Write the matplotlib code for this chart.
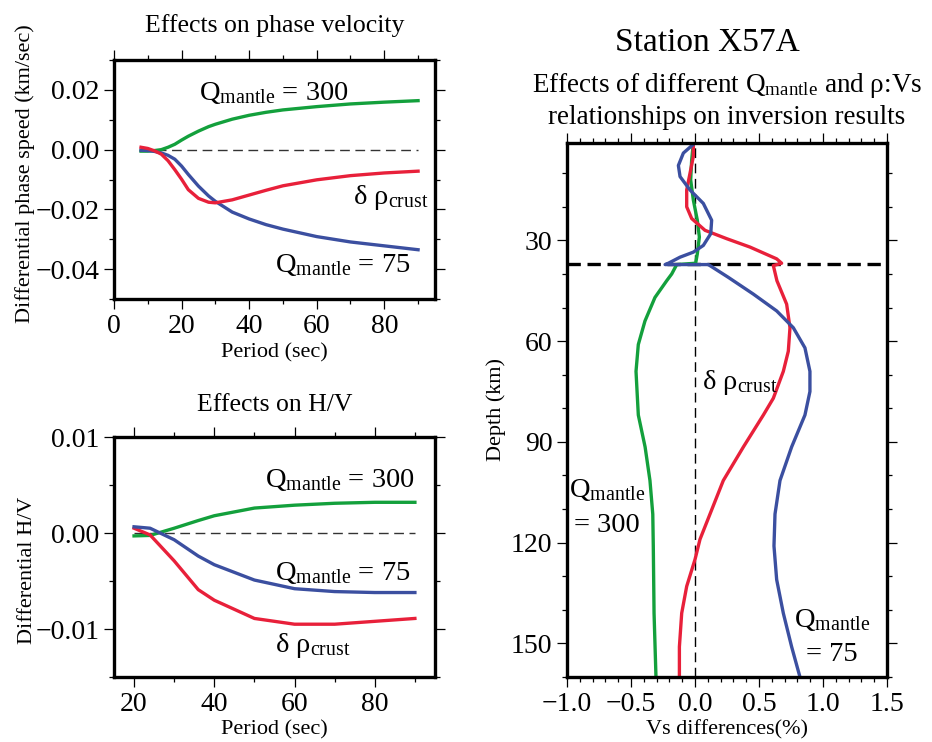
import matplotlib
matplotlib.use('Agg')
from matplotlib import pyplot as plt
from matplotlib.ticker import MultipleLocator, FuncFormatter

plt.rcParams['font.family'] = ['Liberation Serif', 'DejaVu Serif']
plt.rcParams['mathtext.fontset'] = 'custom'
plt.rcParams['mathtext.rm'] = 'Liberation Serif'
plt.rcParams['mathtext.it'] = 'Liberation Serif:italic'
plt.rcParams['mathtext.bf'] = 'Liberation Serif:bold'

GREEN = '#13a03c'
RED = '#e8203a'
BLUE = '#3b4fa0'

# phase velocity differences (km/sec) vs period
pv_period = [8, 10, 12, 14, 16, 18, 20, 22, 25, 28, 30, 35, 40, 45, 50, 60, 70, 80, 90]
pv_q300 = [-0.0005, -0.0005, -0.0003, 0.0, 0.0008, 0.0018, 0.0032, 0.0045, 0.0062, 0.0077,
           0.0085, 0.0102, 0.0115, 0.0125, 0.0133, 0.0144, 0.0153, 0.0159, 0.0164]
pv_rho = [0.0008, 0.0004, -0.0004, -0.0015, -0.0037, -0.0067, -0.0099, -0.0134, -0.0163, -0.0176,
          -0.0178, -0.0168, -0.0152, -0.0136, -0.0121, -0.0101, -0.0087, -0.0078, -0.0072]
pv_q75 = [-0.0002, -0.0003, -0.0006, -0.0011, -0.0019, -0.0032, -0.0055, -0.0083, -0.0122, -0.0155,
          -0.0173, -0.0209, -0.0232, -0.0251, -0.0266, -0.0291, -0.0309, -0.0322, -0.0335]

# H/V differences vs period
hv_period = [20, 24, 30, 36, 40, 50, 60, 70, 80, 90]
hv_q300 = [-0.0003, -0.00025, 0.0005, 0.0013, 0.0018, 0.0026, 0.0029, 0.0031, 0.0032, 0.0032]
hv_q75 = [0.00065, 0.0005, -0.0007, -0.0024, -0.0033, -0.0049, -0.0058, -0.0061, -0.0062, -0.0062]
hv_rho = [0.0005, -0.0002, -0.0029, -0.0059, -0.0070, -0.0089, -0.0095, -0.0095, -0.0092, -0.0089]

# Vs differences (%) vs depth (km)
q300_depth = [1, 6, 12, 18, 24, 29, 34, 36.8, 37.2, 40, 42, 47, 54, 61, 69, 77, 82, 91.5, 101.5, 111.5,
              121, 141, 160]
q300_vs = [-0.013, -0.026, -0.034, -0.013, 0.018, 0.034, 0.018, 0.005, -0.143, -0.182, -0.221, -0.313,
           -0.391, -0.443, -0.461, -0.45, -0.443, -0.39, -0.352, -0.33, -0.326, -0.32, -0.305]
rho_depth = [1, 5, 10, 15, 20, 23.5, 27, 29.5, 32, 35.5, 36.8, 37.5, 42, 49, 56, 63, 69, 77, 82, 91.5,
             101.5, 111.5, 119, 125, 133, 141, 151, 160]
rho_vs = [-0.013, -0.013, -0.039, -0.065, -0.065, -0.026, 0.078, 0.248, 0.43, 0.638, 0.677, 0.612, 0.64,
          0.716, 0.742, 0.729, 0.69, 0.612, 0.534, 0.378, 0.221, 0.117, 0.039, 0.0, -0.065, -0.104,
          -0.122, -0.122]
q75_depth = [1.4, 4, 7.7, 11, 15, 19, 24, 28, 31.5, 33.5, 35, 36.8, 37.2, 37.2, 41, 46, 51, 56, 62, 69,
             75, 82, 91.5, 101.5, 111.5, 121, 131, 141, 151, 160]
q75_vs = [-0.013, -0.091, -0.13, -0.117, -0.039, 0.065, 0.13, 0.123, 0.065, -0.013, -0.117, -0.208,
          -0.234, 0.104, 0.26, 0.456, 0.638, 0.768, 0.859, 0.898, 0.898, 0.859, 0.755, 0.664, 0.625,
          0.617, 0.638, 0.69, 0.755, 0.82]
moho = 37

QM = r'Q$_{\mathrm{mantle}}$'
RHO = r'δ ρ$_{\mathrm{crust}}$'


def fmt(nd):
    def f(v, pos):
        s = f'{v:.{nd}f}'
        if float(s) == 0:
            s = f'{0:.{nd}f}'
        return s.replace('-', '\u2212')
    return FuncFormatter(f)


def style(ax):
    for sp in ax.spines.values():
        sp.set_linewidth(2.4)
    ax.tick_params(which='both', direction='out', top=True, right=True, width=0.9, labelsize=20)
    ax.tick_params(which='major', length=7, pad=3.5)
    ax.tick_params(which='minor', length=3.5)


fig = plt.figure(figsize=(9.32, 7.42), dpi=100)

# phase velocity panel
ax1 = fig.add_axes([0.1223, 0.597, 0.3444, 0.3221])
ax1.plot([8, 90], [0, 0], color='#333333', lw=1, dashes=(7, 4))
ax1.plot(pv_period, pv_q300, color=GREEN, lw=2.4)
ax1.plot(pv_period, pv_q75, color=BLUE, lw=2.4)
ax1.plot(pv_period, pv_rho, color=RED, lw=2.4)
ax1.set_xlim(0, 95)
ax1.set_ylim(-0.05, 0.03)
ax1.xaxis.set_major_locator(MultipleLocator(20))
ax1.xaxis.set_minor_locator(MultipleLocator(10))
ax1.yaxis.set_major_locator(MultipleLocator(0.02))
ax1.yaxis.set_minor_locator(MultipleLocator(0.01))
ax1.yaxis.set_major_formatter(fmt(2))
style(ax1)
ax1.set_title('Effects on phase velocity', fontsize=18.5, pad=20)
ax1.set_xlabel('Period (sec)', fontsize=16)
ax1.set_ylabel('Differential phase speed (km/sec)', fontsize=16, va='center')
ax1.xaxis.set_label_coords(0.5, -0.184)
ax1.yaxis.set_label_coords(-0.277, 0.523)
ax1.text(25.3, 0.0167, QM + ' = 300', fontsize=20.5)
ax1.text(70.7, -0.0183, RHO, fontsize=20.5)
ax1.text(47.8, -0.041, QM + ' = 75', fontsize=20.5)

# H/V panel
ax2 = fig.add_axes([0.1223, 0.0876, 0.3444, 0.3234])
ax2.plot([20, 90], [0, 0], color='#333333', lw=1, dashes=(7, 4))
ax2.plot(hv_period, hv_q300, color=GREEN, lw=2.4)
ax2.plot(hv_period, hv_rho, color=RED, lw=2.4)
ax2.plot(hv_period, hv_q75, color=BLUE, lw=2.4)
ax2.set_xlim(15, 95)
ax2.set_ylim(-0.015, 0.01)
ax2.xaxis.set_major_locator(MultipleLocator(20))
ax2.xaxis.set_minor_locator(MultipleLocator(10))
ax2.yaxis.set_major_locator(MultipleLocator(0.01))
ax2.yaxis.set_minor_locator(MultipleLocator(0.005))
ax2.yaxis.set_major_formatter(fmt(2))
style(ax2)
ax2.set_title('Effects on H/V', fontsize=18.5, pad=19)
ax2.set_xlabel('Period (sec)', fontsize=16)
ax2.set_ylabel('Differential H/V', fontsize=16, va='center')
ax2.xaxis.set_label_coords(0.5, -0.179)
ax2.yaxis.set_label_coords(-0.268, 0.446)
ax2.text(52.6, 0.0048, QM + ' = 300', fontsize=20.5)
ax2.text(55.25, -0.0049, QM + ' = 75', fontsize=20.5)
ax2.text(55.25, -0.0124, RHO, fontsize=20.5)

# inversion results panel
ax3 = fig.add_axes([0.6084, 0.0876, 0.3433, 0.7197])
ax3.axvline(0, color='black', lw=1, dashes=(7, 4))
ax3.axhline(moho, color='black', lw=2.4, dashes=(4, 2))
ax3.plot(q300_vs, q300_depth, color=GREEN, lw=2.4)
ax3.plot(rho_vs, rho_depth, color=RED, lw=2.4)
ax3.plot(q75_vs, q75_depth, color=BLUE, lw=2.4)
ax3.set_xlim(-1.0, 1.5)
ax3.set_ylim(160, 1)
ax3.xaxis.set_major_locator(MultipleLocator(0.5))
ax3.xaxis.set_minor_locator(MultipleLocator(0.1))
ax3.yaxis.set_major_locator(MultipleLocator(30))
ax3.yaxis.set_minor_locator(MultipleLocator(10))
ax3.xaxis.set_major_formatter(fmt(1))
ax3.yaxis.set_major_formatter(fmt(0))
style(ax3)
ax3.set_xlabel('Vs differences(%)', fontsize=16)
ax3.set_ylabel('Depth (km)', fontsize=16, va='center')
ax3.xaxis.set_label_coords(0.5, -0.08)
ax3.yaxis.set_label_coords(-0.222, 0.5)
ax3.text(0.052, 74.2, RHO, fontsize=20.5)
ax3.text(-0.69, 106.4, QM, fontsize=20.5, ha='center')
ax3.text(-0.69, 116.9, '= 300', fontsize=20.5, ha='center')
ax3.text(1.07, 145.2, QM, fontsize=20.5, ha='center')
ax3.text(1.07, 155.1, '= 75', fontsize=20.5, ha='center')

fig.text(0.7586, 1 - 43 / 742, 'Station X57A', fontsize=24, ha='center', va='center')
fig.text(0.7797, 1 - 85 / 742, 'Effects of different ' + QM + ' and ρ:Vs', fontsize=19.5,
         ha='center', va='center')
fig.text(0.7797, 1 - 117 / 742, 'relationships on inversion results', fontsize=19.5,
         ha='center', va='center')

fig.savefig('out.png', dpi=100)
